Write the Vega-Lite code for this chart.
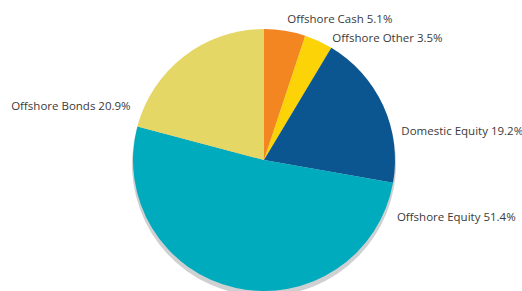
{
  "$schema": "https://vega.github.io/schema/vega-lite/v6.json",
  "autosize": {"type": "none"},
  "width": 516,
  "height": 262,
  "padding": {"left": 6, "top": 29, "right": 0, "bottom": 0},
  "background": "white",
  "config": {"view": {"stroke": null}},
  "data": {"values": [
    {"idx": 1, "asset": "Offshore Cash", "pct": 5.1, "label": "Offshore Cash 5.1%"},
    {"idx": 2, "asset": "Offshore Other", "pct": 3.5, "label": "Offshore Other 3.5%"},
    {"idx": 3, "asset": "Domestic Equity", "pct": 19.2, "label": "Domestic Equity 19.2%"},
    {"idx": 4, "asset": "Offshore Equity", "pct": 51.4, "label": "Offshore Equity 51.4%"},
    {"idx": 5, "asset": "Offshore Bonds", "pct": 20.9, "label": "Offshore Bonds 20.9%"}
  ]},
  "encoding": {
    "theta": {"field": "pct", "type": "quantitative", "stack": true},
    "order": {"field": "idx", "type": "quantitative"}
  },
  "layer": [
    {
      "mark": {"type": "arc", "radius": 132, "yOffset": 4, "xOffset": 0, "color": "#cfd0d2"}
    },
    {
      "mark": {"type": "arc", "radius": 131},
      "encoding": {
        "color": {
          "field": "asset", "type": "nominal", "legend": null,
          "scale": {
            "domain": ["Offshore Cash", "Offshore Other", "Domestic Equity", "Offshore Equity", "Offshore Bonds"],
            "range": ["#f48622", "#fcd307", "#0b5591", "#00abbe", "#e4d766"]
          }
        }
      }
    },
    {
      "mark": {"type": "text", "radius": 140, "align": "left", "baseline": "middle", "dx": 1, "dy": -2, "font": "Open Sans", "fontSize": 11.5, "color": "#3a3a3a"},
      "encoding": {"text": {"condition": {"test": "datum.asset === 'Offshore Cash'", "field": "label"}, "value": ""}}
    },
    {
      "mark": {"type": "text", "radius": 140, "align": "left", "baseline": "middle", "dx": 10, "dy": 6, "font": "Open Sans", "fontSize": 11.5, "color": "#3a3a3a"},
      "encoding": {"text": {"condition": {"test": "datum.asset === 'Offshore Other'", "field": "label"}, "value": ""}}
    },
    {
      "mark": {"type": "text", "radius": 140, "align": "left", "baseline": "middle", "dx": 10, "dy": 30, "font": "Open Sans", "fontSize": 11.5, "color": "#3a3a3a"},
      "encoding": {"text": {"condition": {"test": "datum.asset === 'Domestic Equity'", "field": "label"}, "value": ""}}
    },
    {
      "mark": {"type": "text", "radius": 140, "align": "left", "baseline": "middle", "dx": 163, "dy": -79, "font": "Open Sans", "fontSize": 11.5, "color": "#3a3a3a"},
      "encoding": {"text": {"condition": {"test": "datum.asset === 'Offshore Equity'", "field": "label"}, "value": ""}}
    },
    {
      "mark": {"type": "text", "radius": 140, "align": "right", "baseline": "middle", "dx": -48, "dy": 58, "font": "Open Sans", "fontSize": 11.5, "color": "#3a3a3a"},
      "encoding": {"text": {"condition": {"test": "datum.asset === 'Offshore Bonds'", "field": "label"}, "value": ""}}
    }
  ]
}
